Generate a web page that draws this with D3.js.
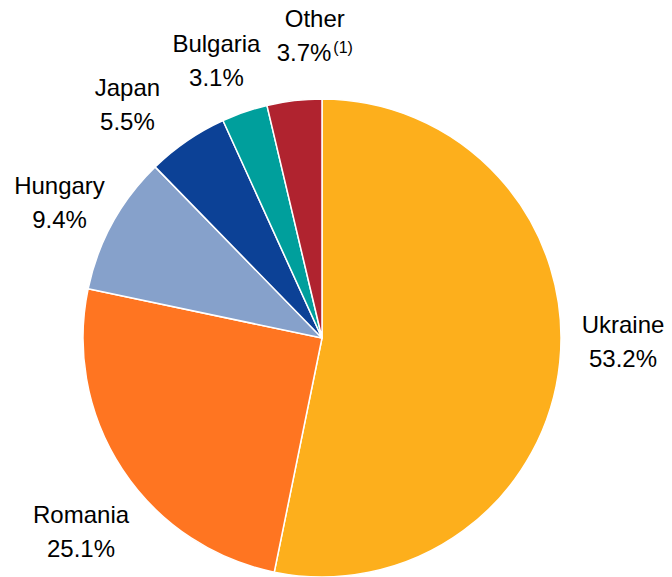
<!DOCTYPE html>
<html>
<head>
<meta charset="utf-8">
<script src="https://cdn.jsdelivr.net/npm/d3@7"></script>
<style>
  html, body { margin: 0; padding: 0; background: #fff; }
  svg { display: block; }
  text { font-family: "Liberation Sans", Arial, sans-serif; fill: #000; }
</style>
</head>
<body>
<svg id="chart" width="672" height="577"></svg>
<script>
const categories = ["Ukraine", "Romania", "Hungary", "Japan", "Bulgaria", "Other"];
const shares = [53.2, 25.1, 9.4, 5.5, 3.1, 3.7];
const valueLabels = ["53.2%", "25.1%", "9.4%", "5.5%", "3.1%", "3.7%"];
const footnotes = ["", "", "", "", "", "(1)"];
const colors = ["#FDAF1C", "#FF7521", "#86A1CB", "#0C4196", "#009F9C", "#B0232F"];

const W = 672, H = 577;
const cx = 322, cy = 338, R = 239, labelR = 295;
const lineH = 34;
// small layout nudges for label placement (px), by category
const labelNudge = {
  "Ukraine": [7.5, -34.6], "Romania": [5.6, 23], "Hungary": [-4, -2],
  "Japan": [-28, 1], "Bulgaria": [-10, -7], "Other": [27, -18]
};

const svg = d3.select("#chart");
const g = svg.append("g").attr("transform", `translate(${cx},${cy})`);

const data = categories.map((c, i) => ({ name: c, value: shares[i], label: valueLabels[i], note: footnotes[i], color: colors[i] }));

const pie = d3.pie().value(d => d.value).sort(null).startAngle(0).endAngle(2 * Math.PI);
const arcs = pie(data);
const arc = d3.arc().innerRadius(0).outerRadius(R);
const labelArc = d3.arc().innerRadius(labelR).outerRadius(labelR);

g.selectAll("path.slice").data(arcs).enter().append("path")
  .attr("class", "slice")
  .attr("d", arc)
  .attr("fill", d => d.data.color)
  .attr("stroke", "#fff")
  .attr("stroke-width", 1.5)
  .attr("stroke-linejoin", "round");

const labels = g.selectAll("text.lbl").data(arcs).enter().append("text")
  .attr("class", "lbl")
  .attr("text-anchor", "middle")
  .attr("font-size", 24)
  .attr("transform", d => {
    const [x, y] = labelArc.centroid(d);
    const n = labelNudge[d.data.name] || [0, 0];
    return `translate(${x + n[0]},${y + n[1]})`;
  });

labels.append("tspan").attr("x", 0).attr("y", 0).text(d => d.data.name);
labels.append("tspan").attr("x", 0).attr("y", lineH).text(d => d.data.label);
labels.each(function(d) {
  if (d.data.note) {
    d3.select(this).append("tspan").attr("font-size", 16).attr("dx", 2).attr("dy", -8).text(d.data.note);
  }
});
</script>
</body>
</html>
